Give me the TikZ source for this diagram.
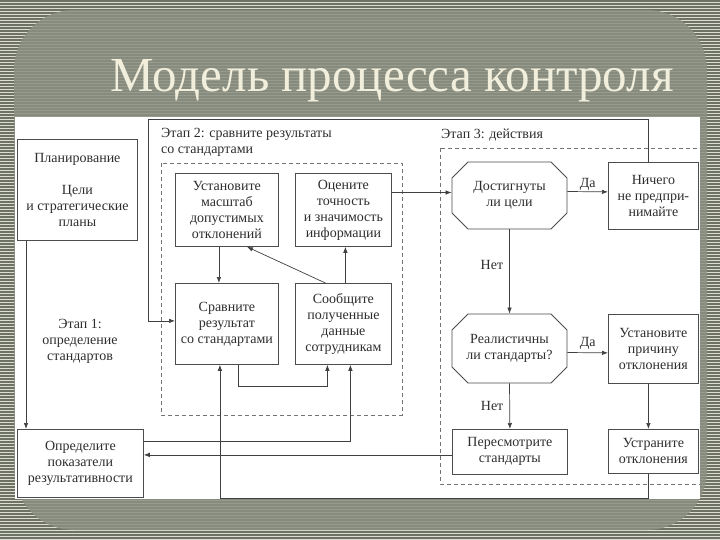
\documentclass[tikz,border=0pt]{standalone}
\usepackage{fontspec}
\setmainfont{Liberation Serif}
\usetikzlibrary{arrows.meta,positioning,shapes.misc}
\definecolor{slideolive}{HTML}{6E7262}
\definecolor{slidelight}{HTML}{DCDCD2}
\definecolor{panelgray}{HTML}{8C9082}
\definecolor{titlecream}{HTML}{F1EEDC}
\definecolor{inkgray}{HTML}{2E2E2E}
\newcommand{\diafont}{\fontsize{14}{16}\selectfont}

\begin{document}
\begin{tikzpicture}[
  x=1pt,y=-1pt,
  box/.style={draw=black!70,line width=0.8pt,fill=white,text=inkgray,
    align=center,font=\diafont,inner sep=1pt,anchor=north west},
  decide/.style={box,anchor=center,chamfered rectangle,chamfered rectangle xsep=13pt},
  phase/.style={text=inkgray,font=\diafont,inner sep=0pt},
  answer/.style={text=inkgray,font=\diafont,inner sep=1pt},
  link/.style={draw=black!75,line width=0.7pt},
  arrow/.style={link,-{Latex[length=6pt,width=4.5pt]}},
  frame/.style={draw=black!55,line width=0.7pt,dash pattern=on 4pt off 3pt}
]
\useasboundingbox (0,0) rectangle (720,540);
% slide background
\fill[slidelight] (0,0) rectangle (720,540);
\foreach \s in {0,3,...,537}
  \fill[slideolive] (0,\s) rectangle (720,\s+1.6);
\fill[panelgray,opacity=0.85,rounded corners=60pt] (14,10) rectangle (707,530);
\fill[white] (15,117) rectangle (700,499);

\node[font=\fontsize{49}{54}\selectfont,text=titlecream] (title) at (392,81) {Модель процесса контроля};

% stage frames
\draw[frame] (161,163) rectangle (402,415);
\begin{scope}
  \clip (15,117) rectangle (700,499);
  \draw[frame] (440,148) rectangle (712,484);
\end{scope}

\node[phase,align=center] (phase1) at (80,341) {Этап 1:\\определение\\стандартов};
\node[phase,align=left,anchor=north west] (phase2) at (161,128) {Этап 2: сравните результаты\\со стандартами};
\node[phase,anchor=west] (phase3) at (441,135) {Этап 3: действия};

% stage 1
\node[box,minimum width=120,minimum height=101] (plan) at (17,139)
  {Планирование\\[\baselineskip]Цели\\и стратегические\\планы};
\node[box,minimum width=126,minimum height=68] (goal) at (17,429)
  {Определите\\показатели\\результативности};

% stage 2
\node[box,minimum width=103,minimum height=73] (stand) at (175,173)
  {Установите\\масштаб\\допустимых\\отклонений};
\node[box,minimum width=96,minimum height=73] (assess) at (295,173)
  {Оцените\\точность\\и значимость\\информации};
\node[box,minimum width=103,minimum height=81] (compare) at (175,283)
  {Сравните\\результат\\со стандартами};
\node[box,minimum width=96,minimum height=81] (report) at (295,283)
  {Сообщите\\полученные\\данные\\сотрудникам};

% stage 3
\node[decide,minimum width=115,minimum height=67] (reached) at (509.5,195.5)
  {Достигнуты\\ли цели};
\node[box,minimum width=90,minimum height=67] (nothing) at (608,162)
  {Ничего\\не предпри-\\нимайте};
\node[decide,minimum width=115,minimum height=69] (real) at (509.5,348.5)
  {Реалистичны\\ли стандарты?};
\node[box,minimum width=90,minimum height=69] (cause) at (608,314)
  {Установите\\причину\\отклонения};
\node[box,minimum width=115,minimum height=45] (revise) at (452,429)
  {Пересмотрите\\стандарты};
\node[box,minimum width=90,minimum height=44] (fix) at (608,429)
  {Устраните\\отклонения};

\coordinate (loopTop) at (148,119);
\coordinate (inReached) at ([yshift=3pt]reached.west);
\coordinate (backRevise) at ([yshift=-3pt]revise.west);

\draw[arrow] ([xshift=9pt]plan.south west) -- ([xshift=9pt]goal.north west);
\draw[arrow] ([xshift=-8pt]stand.south) -- ([xshift=-8pt]compare.north);
\draw[arrow] ([xshift=-18pt]report.north) -- ([xshift=20pt]stand.south);
\draw[arrow] ([xshift=2pt]report.north) -- ([xshift=2pt]assess.south);
\draw[arrow] ([xshift=11pt]compare.south) -- ++(0,22) -| ([xshift=-16pt]report.south);
\draw[arrow] (assess.east |- inReached) -- (inReached);
\draw[arrow] ([yshift=4pt]reached.east) -- node[answer,above] {Да} ([yshift=4pt]nothing.west);
\draw[arrow] (reached.south) -- node[answer,left=5pt,pos=0.42] {Нет} (real.north);
\draw[arrow] ([yshift=-4pt]real.east) -- node[answer,above=2pt] {Да} ([yshift=-4pt]cause.west);
\draw[arrow] (real.south) -- node[answer,left=5pt] {Нет} (revise.north);
\draw[arrow] ([xshift=-5pt]cause.south) -- ([xshift=-5pt]fix.north);
\draw[arrow] (backRevise) -- (backRevise -| goal.east);
\draw[arrow] ([yshift=22pt]goal.east) -| ([xshift=7pt]report.south);
\draw[arrow] ([xshift=-5pt]fix.south) -- ++(0,25) -| ([xshift=-7pt]compare.south);
\draw[arrow] ([xshift=-5pt]nothing.north) |- (loopTop) |- ([yshift=3pt]compare.west);
\end{tikzpicture}
\end{document}
